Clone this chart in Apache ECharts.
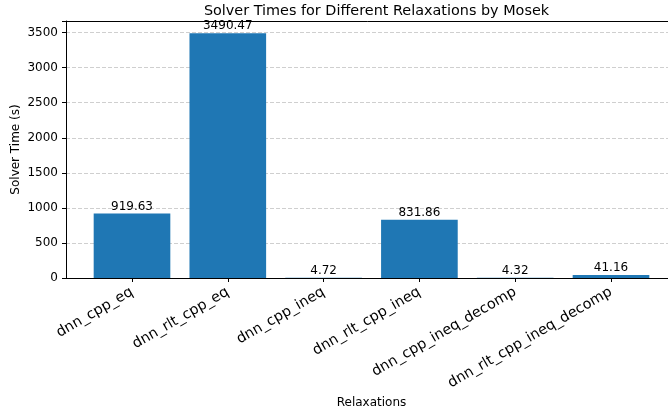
<!DOCTYPE html>
<html>
<head>
<meta charset="utf-8">
<script src="https://cdn.jsdelivr.net/npm/echarts@6/dist/echarts.min.js"></script>
<style>html,body{margin:0;padding:0;background:#fff}#c{width:668px;height:414px}</style>
</head>
<body>
<div id="c"></div>
<script>
const categories = ['dnn_cpp_eq', 'dnn_rlt_cpp_eq', 'dnn_cpp_ineq', 'dnn_rlt_cpp_ineq', 'dnn_cpp_ineq_decomp', 'dnn_rlt_cpp_ineq_decomp'];
const solverTimes = [919.63, 3490.47, 4.72, 831.86, 4.32, 41.16];
const yMin = 0;
const yMax = 3665;
const yStep = 500;

const font = 'DejaVu Sans';
const chart = echarts.init(document.getElementById('c'), null, {renderer: 'canvas'});
chart.setOption({
  animation: false,
  textStyle: {fontFamily: font},
  title: {
    text: 'Solver Times for Different Relaxations by Mosek',
    left: 371.5, textAlign: 'center', top: -1,
    textStyle: {fontFamily: font, fontSize: 14.4, fontWeight: 'normal', color: '#000'}
  },
  grid: [
    {left: 66, right: -9, top: 21, bottom: 136, show: false, containLabel: false, outerBoundsMode: 'none'},
    {left: 84.1, right: 9.1, top: 21, bottom: 136, containLabel: false, outerBoundsMode: 'none'}
  ],
  xAxis: [
    {gridIndex: 0, type: 'value', min: 0, max: 1, position: 'top', z: 10,
      axisLine: {show: true, onZero: false, lineStyle: {color: '#000', width: 1}},
      axisTick: {show: false}, axisLabel: {show: false}, splitLine: {show: false}},
    {
      gridIndex: 1, type: 'category', data: categories,
      name: 'Relaxations', nameLocation: 'middle', nameGap: 119, nameMoveOverlap: false,
      nameTextStyle: {fontFamily: font, fontSize: 12, color: '#000'},
      axisLine: {show: true, lineStyle: {color: '#000', width: 1}},
      axisTick: {show: true, alignWithLabel: true, length: 4, lineStyle: {color: '#000', width: 1}},
      axisLabel: {rotate: 30, fontFamily: font, fontSize: 14.4, color: '#000', margin: 13, interval: 0},
      splitLine: {show: false}
    },
    {gridIndex: 0, type: 'value', min: 0, max: 1, position: 'bottom', z: 10,
      axisLine: {show: true, onZero: false, lineStyle: {color: '#000', width: 1}},
      axisTick: {show: false}, axisLabel: {show: false}, splitLine: {show: false}}
  ],
  yAxis: [
    {
      gridIndex: 0, type: 'value', min: yMin, max: yMax, interval: yStep,
      name: 'Solver Time (s)', nameLocation: 'middle', nameGap: 44, nameMoveOverlap: false,
      nameTextStyle: {fontFamily: font, fontSize: 12, color: '#000'},
      axisLine: {show: true, lineStyle: {color: '#000', width: 1}},
      axisTick: {show: true, length: 4, lineStyle: {color: '#000', width: 1}},
      axisLabel: {fontFamily: font, fontSize: 12, color: '#000', margin: 8,
        formatter: v => (v % yStep === 0 ? String(v) : '')},
      splitLine: {show: true, lineStyle: {color: '#cfcfcf', width: 1, type: [4, 2]}}
    },
    {gridIndex: 1, type: 'value', min: yMin, max: yMax, interval: yStep, show: false, splitLine: {show: false}}
  ],
  series: [{
    type: 'bar', xAxisIndex: 1, yAxisIndex: 1,
    data: solverTimes, barCategoryGap: '20%',
    itemStyle: {color: '#1f77b4'},
    label: {show: true, position: 'top', distance: 1, fontFamily: font, fontSize: 12, color: '#000',
      formatter: p => p.value.toFixed(2)}
  }]
});
</script>
</body>
</html>
